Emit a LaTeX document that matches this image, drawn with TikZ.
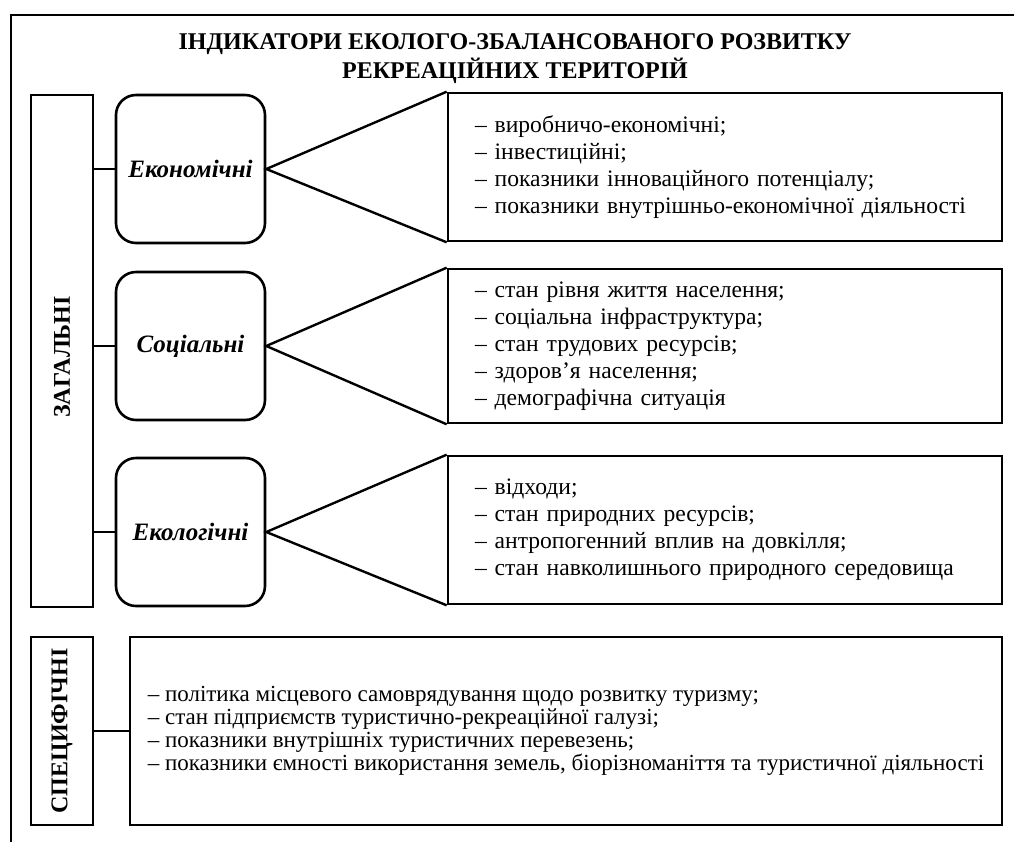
\documentclass[tikz,border=0pt]{standalone}
\usepackage{fontspec}
\setmainfont{Liberation Serif}
\usepackage{tikz}

\begin{document}
\begin{tikzpicture}[x=0.5pt, y=-0.5pt,
    font=\fontsize{11.8}{13.5}\selectfont,
    frame/.style={line width=1.2pt},
    groupbox/.style={draw, line width=1.3pt, minimum width=31pt, inner sep=0pt,
        font=\fontsize{12}{14}\selectfont\bfseries},
    kindbox/.style={draw, line width=1.3pt, rounded corners=10pt, minimum width=74.5pt,
        minimum height=74pt, inner sep=0pt, font=\fontsize{12.5}{14}\selectfont\bfseries\itshape},
    listbox/.style={draw, line width=1.3pt, minimum height=74pt, text width=250pt,
        inner xsep=13.5pt, align=left},
    link/.style={line width=1.2pt}]
                \useasboundingbox (0,0) rectangle (1014,842);
                % outer frame
                \draw[frame] (1014,15) -- (11,15) -- (11,842);
                \node[font=\fontsize{12}{13}\selectfont\bfseries, align=center] (title) at (515,59)
                    {ІНДИКАТОРИ ЕКОЛОГО-ЗБАЛАНСОВАНОГО РОЗВИТКУ\\[1.5pt]РЕКРЕАЦІЙНИХ ТЕРИТОРІЙ};

                % general indicators
                \node[groupbox, minimum height=256pt] (gen) at (62,351)
                    {\rotatebox{90}{ЗАГАЛЬНІ\hspace{6pt}}};

                \node[kindbox] (econ) at (190.5,169) {Економічні};
                \node[listbox] (econL) at (725,167) {– виробничо-економічні;\\
                    – інвестиційні;\\
                    – показники інноваційного потенціалу;\\
                    – показники внутрішньо-економічної діяльності};

                \node[kindbox] (soc) at (190.5,346) {Соціальні};
                \node[listbox, minimum height=77pt] (socL) at (725,346) {– стан рівня життя населення;\\
                    – соціальна інфраструктура;\\
                    – стан трудових ресурсів;\\
                    – здоров’я населення;\\
                    – демографічна ситуація};

                \node[kindbox] (eco) at (190.5,532) {Екологічні};
                \node[listbox] (ecoL) at (725,530) {– відходи;\\
                    – стан природних ресурсів;\\
                    – антропогенний вплив на довкілля;\\
                    – стан навколишнього природного середовища};

                \foreach \k in {econ,soc,eco} {
                    \draw[link] (\k.west) -- (\k.west -| gen.east);
                    \draw[link] (\k L.north west) -- (\k.east) -- (\k L.south west);
                }

                % specific indicators
                \node[groupbox, minimum height=94pt] (spec) at (62,731)
                    {\rotatebox{90}{СПЕЦИФІЧНІ}};
                \node[draw, line width=1.3pt, minimum width=436pt, minimum height=94pt, align=left,
                    font=\fontsize{11.5}{11.6}\selectfont] (specL) at (566,731)
                    {– політика місцевого самоврядування щодо розвитку туризму;\\
                    – стан підприємств туристично-рекреаційної галузі;\\
                    – показники внутрішніх туристичних перевезень;\\
                    – показники ємності використання земель, біорізноманіття та туристичної діяльності};
                \draw[link] (spec) -- (specL);
\end{tikzpicture}
\end{document}
